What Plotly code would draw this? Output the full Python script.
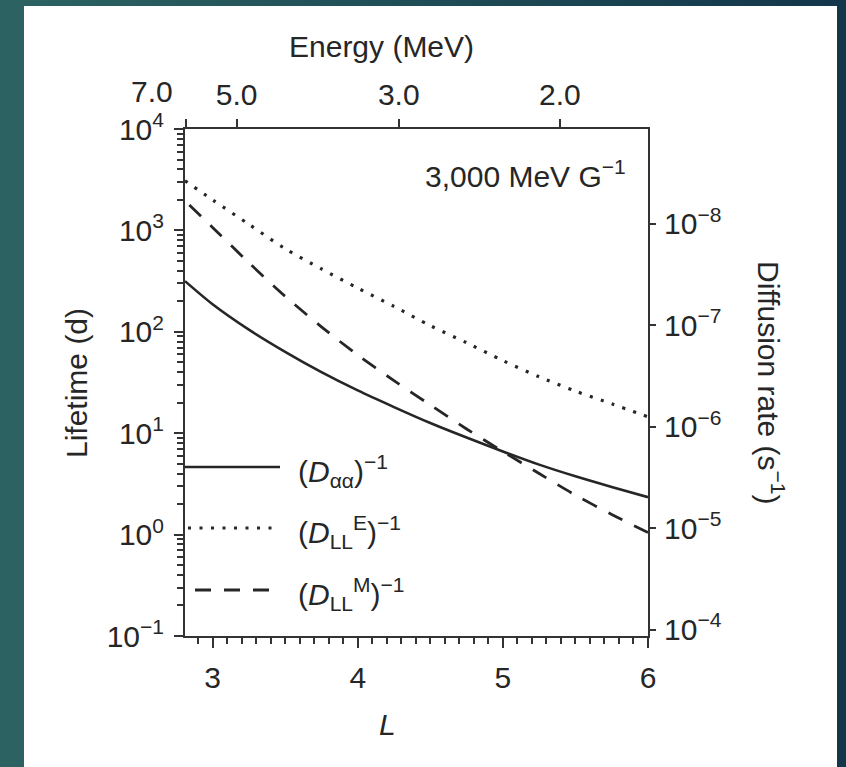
import base64
import math
import plotly.graph_objects as go

# ---------------- data ----------------
L_alpha = [2.81, 3.0, 3.25, 3.5, 3.75, 4.0, 4.25, 4.5, 4.75, 5.0, 5.25, 5.5, 5.75, 6.0]
T_alpha = [316, 187, 105, 63.4, 40.0, 26.4, 18.1, 12.6, 9.06, 6.61, 4.90, 3.76, 2.95, 2.34]

L_llE = [2.81, 3.0, 3.25, 3.5, 3.75, 4.0, 4.25, 4.5, 4.75, 5.0, 5.25, 5.5, 5.75, 6.0]
T_llE = [3090, 2000, 1150, 660, 417, 270, 178, 115, 78, 52, 36, 26, 19.5, 14.5]

L_llM = [2.84, 3.0, 3.25, 3.5, 3.75, 4.0, 4.25, 4.5, 4.75, 5.0, 5.25, 5.5, 5.75, 6.0]
T_llM = [1780, 1070, 480, 224, 112, 59, 33, 19, 11, 6.6, 4.0, 2.45, 1.58, 1.05]

series_names = ["(<i>D</i><sub>αα</sub>)<sup>−1</sup>",
                "(<i>D</i><sub>LL</sub><sup>E</sup>)<sup>−1</sup>",
                "(<i>D</i><sub>LL</sub><sup>M</sup>)<sup>−1</sup>"]

energy_labels = ["7.0", "5.0", "3.0", "2.0"]
energy_L = [2.814, 3.166, 4.283, 5.393]

L_ticks = [3, 4, 5, 6]
life_exponents = [-1, 0, 1, 2, 3, 4]
rate_exponents = [-8, -7, -6, -5, -4]
SECONDS_PER_DAY = 86400.0

L_range = [2.81, 6.0]
life_log_range = [-1, 4]

# ---------------- layout geometry ----------------
W, H = 846, 767
ML, MR, MT, MB = 185, 198, 129, 131
PW, PH = W - ML - MR, H - MT - MB


def px(x):
    return (x - ML) / PW


def py(y):
    return (H - MB - y) / PH


def pow_label(e):
    return "10<sup>" + ("−" if e < 0 else "") + str(abs(e)) + "</sup>"


FONT = "Liberation Sans, Arial, Helvetica, sans-serif"
FS = 30
INK = "#262626"
AX = "#333333"

fig = go.Figure()
fig.add_trace(go.Scatter(x=L_alpha, y=T_alpha, mode="lines", name=series_names[0],
                         line=dict(color=INK, width=2.6, shape="spline", smoothing=0.8)))
fig.add_trace(go.Scatter(x=L_llE, y=T_llE, mode="lines", name=series_names[1],
                         line=dict(color=INK, width=3.2, dash="3px,8.5px", shape="spline", smoothing=0.8)))
fig.add_trace(go.Scatter(x=L_llM, y=T_llM, mode="lines", name=series_names[2],
                         line=dict(color=INK, width=2.8, dash="16px,13px", shape="spline", smoothing=0.8)))
# carrier trace for the top / right axes
fig.add_trace(go.Scatter(x=[], y=[], xaxis="x2", yaxis="y2", showlegend=False, hoverinfo="skip"))

life_ticks = [10.0 ** e for e in life_exponents]
rate_ticks = [10.0 ** e for e in rate_exponents]
minor_life = [m * 10.0 ** e for e in range(life_log_range[0], life_log_range[1]) for m in range(2, 10)]

rate_range = [-life_log_range[0] - math.log10(SECONDS_PER_DAY),
              -life_log_range[1] - math.log10(SECONDS_PER_DAY)]

fig.update_layout(
    width=W, height=H,
    margin=dict(l=ML, r=MR, t=MT, b=MB, pad=0),
    paper_bgcolor="#1d4b56",
    plot_bgcolor="white",
    showlegend=False,
    font=dict(family=FONT, size=FS, color=INK),
    xaxis=dict(range=L_range, showline=True, linecolor=AX, linewidth=2,
               tickvals=L_ticks, ticks="outside", ticklen=10, tickwidth=2, tickcolor=AX,
               minor=dict(dtick=0.1, tick0=3, ticks="outside", ticklen=6, tickwidth=1.6,
                          tickcolor=AX, showgrid=False),
               showgrid=False, zeroline=False, tickfont=dict(size=FS), ticklabelstandoff=4),
    xaxis2=dict(range=L_range, overlaying="x", side="top", showline=True, linecolor=AX, linewidth=2,
                tickvals=energy_L, ticktext=["", *energy_labels[1:]], ticks="outside", ticklen=8,
                tickwidth=2, tickcolor=AX, showgrid=False, zeroline=False, tickfont=dict(size=FS),
                ticklabelstandoff=2),
    yaxis=dict(type="log", range=life_log_range, showline=True, linecolor=AX, linewidth=2,
               tickvals=life_ticks, ticktext=[pow_label(e) for e in life_exponents],
               ticks="outside", ticklen=9, tickwidth=2, tickcolor=AX,
               minor=dict(tickvals=minor_life, ticks="outside", ticklen=6, tickwidth=1.5,
                          tickcolor=AX, showgrid=False),
               showgrid=False, zeroline=False, tickfont=dict(size=FS), ticklabelstandoff=4),
    yaxis2=dict(type="log", range=rate_range, overlaying="y", side="right", showline=True,
                linecolor=AX, linewidth=2, tickvals=rate_ticks,
                ticktext=[pow_label(e) for e in rate_exponents],
                ticks="outside", ticklen=6, tickwidth=2, tickcolor=AX, showgrid=False,
                zeroline=False, tickfont=dict(size=FS), ticklabelstandoff=2),
)

# the leftmost energy label sits left of its tick (at the frame corner)
fig.add_annotation(xref="paper", yref="paper", x=px(152), y=py(91), text=energy_labels[0],
                   showarrow=False, xanchor="center", yanchor="middle", font=dict(size=FS))

# background gradient + white panel
svg = ('<svg xmlns="http://www.w3.org/2000/svg" width="846" height="767">'
       '<defs><linearGradient id="g" x1="0" y1="0" x2="1" y2="0">'
       '<stop offset="0" stop-color="#2c6362"/><stop offset="1" stop-color="#12364a"/>'
       '</linearGradient></defs><rect width="846" height="767" fill="url(#g)"/></svg>')
src = "data:image/svg+xml;base64," + base64.b64encode(svg.encode()).decode()
fig.add_layout_image(dict(source=src, xref="paper", yref="paper", x=px(0), y=py(0),
                          sizex=W / PW, sizey=H / PH, xanchor="left", yanchor="top",
                          sizing="stretch", layer="below"))
fig.add_shape(type="rect", xref="paper", yref="paper", x0=px(24), x1=px(837), y0=py(767), y1=py(6),
              fillcolor="white", line=dict(width=0), layer="below")

# legend keys
legend_rows = [(467, dict(color=INK, width=2.6), 185, 280),
               (528, dict(color=INK, width=3.2, dash="3px,8.5px"), 188, 280),
               (590, dict(color=INK, width=2.8, dash="16px,13px"), 195, 270)]
for (yy, ln, x0, x1), name in zip(legend_rows, series_names):
    fig.add_shape(type="line", xref="paper", yref="paper", x0=px(x0), x1=px(x1), y0=py(yy), y1=py(yy),
                  line=ln)
    fig.add_annotation(xref="paper", yref="paper", x=px(296), y=py(yy + 4), text=name, showarrow=False,
                       xanchor="left", yanchor="middle", font=dict(size=FS))

# texts
fig.add_annotation(xref="paper", yref="paper", x=px(628), y=py(174), text="3,000 MeV G<sup>−1</sup>",
                   showarrow=False, xanchor="right", yanchor="middle", font=dict(size=FS))
fig.add_annotation(xref="paper", yref="paper", x=px(381), y=py(46), text="Energy (MeV)",
                   showarrow=False, xanchor="center", yanchor="middle", font=dict(size=FS))
fig.add_annotation(xref="paper", yref="paper", x=px(387), y=py(724), text="<i>L</i>",
                   showarrow=False, xanchor="center", yanchor="middle", font=dict(size=FS))
fig.add_annotation(xref="paper", yref="paper", x=px(76), y=py(383), text="Lifetime (d)",
                   showarrow=False, textangle=-90, xanchor="center", yanchor="middle", font=dict(size=FS))
fig.add_annotation(xref="paper", yref="paper", x=px(771), y=py(382), text="Diffusion rate (s<sup>−1</sup>)",
                   showarrow=False, textangle=90, xanchor="center", yanchor="middle", font=dict(size=FS))

fig.write_html("out.html")
